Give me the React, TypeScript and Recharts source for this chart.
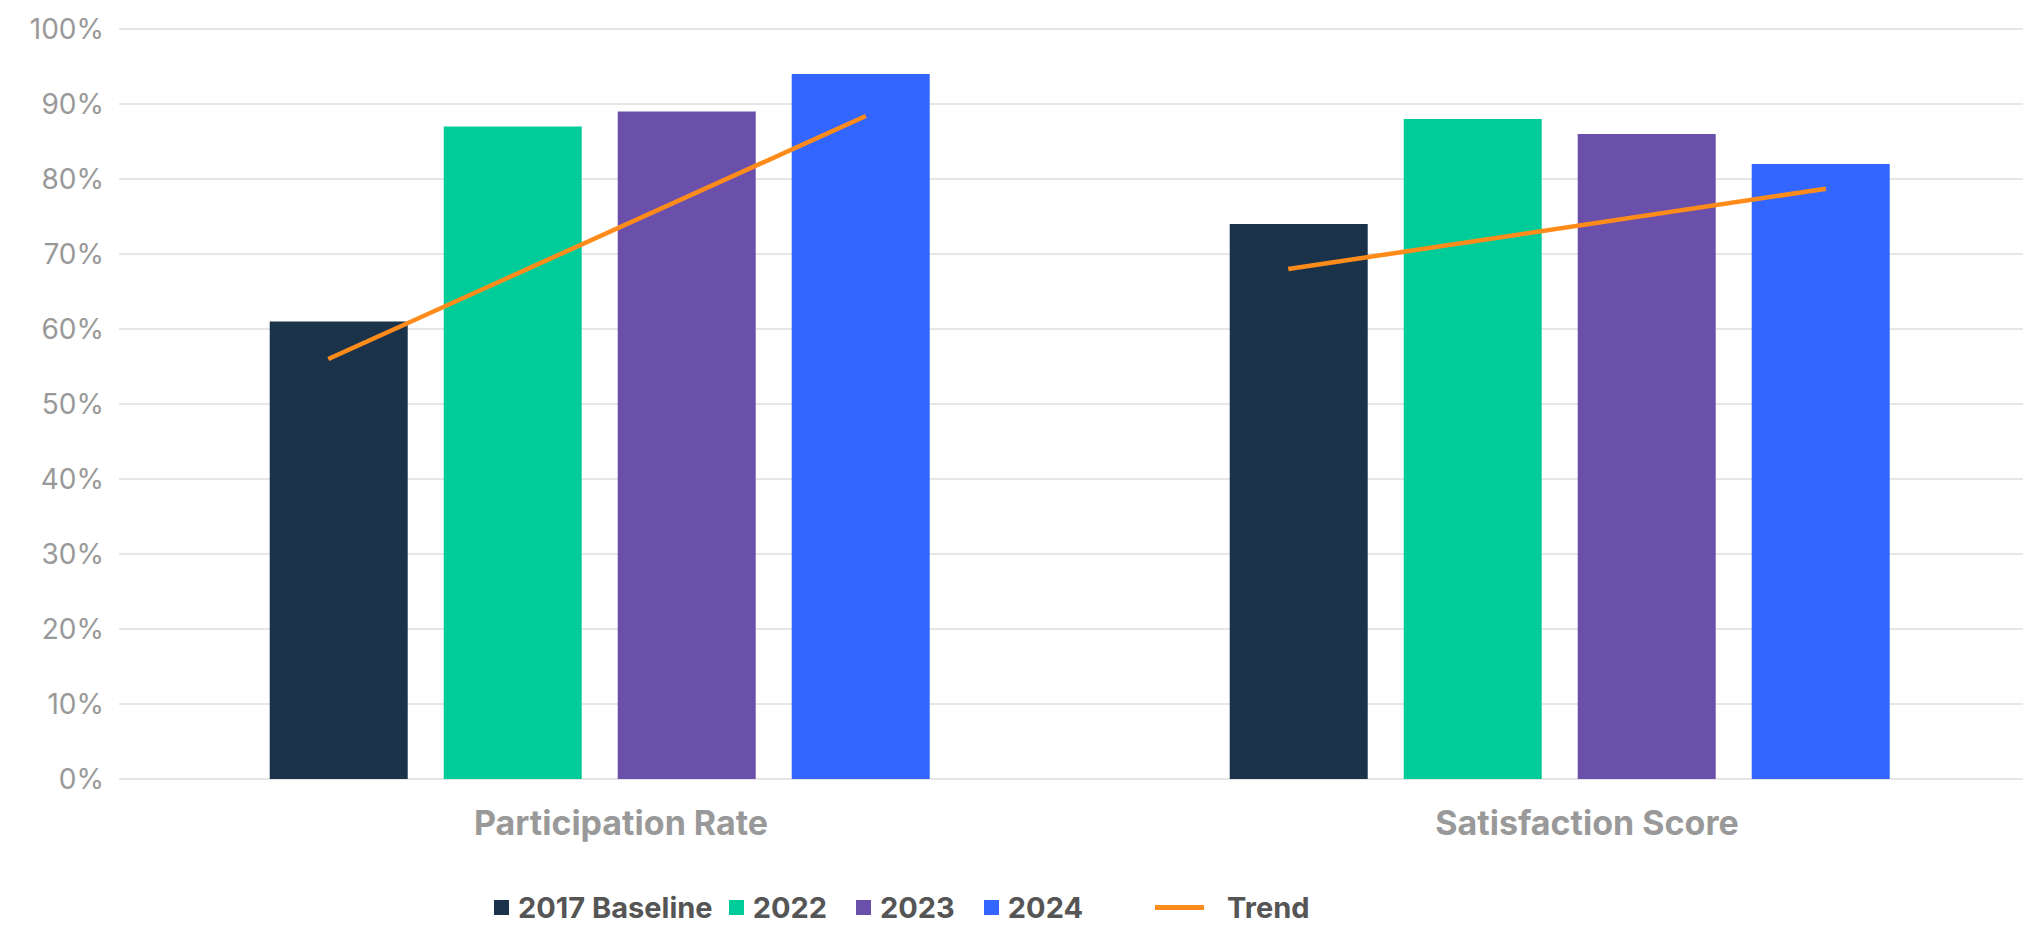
import React from "react";
import {
  ComposedChart,
  Bar,
  Line,
  XAxis,
  YAxis,
  CartesianGrid,
  Legend,
} from "recharts";

const categories = ["Participation Rate", "Satisfaction Score"];
const baseline2017 = [61, 74];
const values2022 = [87, 88];
const values2023 = [89, 86];
const values2024 = [94, 82];
const trendStart = [56, 68];
const trendEnd = [88.4, 78.7];
const yTicks = [0, 10, 20, 30, 40, 50, 60, 70, 80, 90, 100];

const seriesNames = ["2017 Baseline", "2022", "2023", "2024"];
const seriesKeys = ["b2017", "y2022", "y2023", "y2024"];
const seriesColors = ["#1a334b", "#00cc99", "#6b50ab", "#3366ff"];
const trendColor = "#ff8c1a";

const data = categories.map((name, i) => ({
  name,
  b2017: baseline2017[i],
  y2022: values2022[i],
  y2023: values2023[i],
  y2024: values2024[i],
}));

// trend endpoints sit at fractional positions inside each category band
const trendFrom = 0.218;
const trendTo = 0.778;
const trendData: { pos: number; v: number | null }[] = [];
categories.forEach((_, i) => {
  if (i > 0) trendData.push({ pos: i, v: null });
  trendData.push({ pos: i + trendFrom, v: trendStart[i] });
  trendData.push({ pos: i + trendTo, v: trendEnd[i] });
});

const FONT = "Inter, 'Noto Sans', sans-serif";

const XTick = (props: any) => {
  const { x, y, payload, index } = props;
  return (
    <text
      x={x + (index === 0 ? 22 : 28)}
      y={y + 43}
      textAnchor="middle"
      dominantBaseline="central"
      fontFamily={FONT}
      fontWeight={700}
      fontSize={34}
      fill="#999999"
    >
      {payload.value}
    </text>
  );
};

const LegendContent = () => (
  <div
    style={{
      display: "flex",
      alignItems: "center",
      height: 79,
      boxSizing: "border-box",
      paddingTop: 37,
      paddingLeft: 494,
      fontFamily: FONT,
      fontWeight: 700,
      fontSize: 29,
      color: "#555555",
    }}
  >
    {seriesNames.map((n, i) => (
      <div
        key={n}
        style={{ display: "flex", alignItems: "center", marginLeft: i === 0 ? 0 : i === 1 ? 16 : 29 }}
      >
        <div style={{ width: 15, height: 15, background: seriesColors[i], marginRight: 9 }} />
        <span>{n}</span>
      </div>
    ))}
    <div style={{ display: "flex", alignItems: "center", marginLeft: 72 }}>
      <div style={{ width: 49, height: 5, background: trendColor, marginRight: 23 }} />
      <span>Trend</span>
    </div>
  </div>
);

export default function App() {
  return (
    <div style={{ width: 2023, height: 928, overflow: "hidden", position: "relative", background: "#fff" }}>
      <style>{"body{margin:0}"}</style>
      <ComposedChart
        width={2039}
        height={928}
        data={data}
        margin={{ top: 29, right: 0, left: 0, bottom: 0 }}
        barCategoryGap="15.7%"
        barGap={36}
      >
        <CartesianGrid vertical={false} stroke="#e6e6e6" strokeWidth={2} />
        <XAxis
          dataKey="name"
          axisLine={false}
          tickLine={false}
          tickSize={0}
          tickMargin={0}
          height={70}
          tick={<XTick />}
          interval={0}
        />
        <XAxis
          xAxisId="trend"
          type="number"
          dataKey="pos"
          domain={[0, 2]}
          allowDataOverflow
          hide
        />
        <YAxis
          width={119}
          domain={[0, 100]}
          ticks={yTicks}
          interval={0}
          axisLine={false}
          tickLine={false}
          tickSize={0}
          tickMargin={15}
          tickFormatter={(v: number) => `${v}%`}
          tick={{ fill: "#999999", fontSize: 28, fontFamily: FONT }}
        />
        {seriesKeys.map((k, i) => (
          <Bar key={k} dataKey={k} name={seriesNames[i]} fill={seriesColors[i]} isAnimationActive={false} />
        ))}
        <Line
          xAxisId="trend"
          data={trendData}
          dataKey="v"
          name="Trend"
          stroke={trendColor}
          strokeWidth={4.5}
          dot={false}
          activeDot={false}
          connectNulls={false}
          isAnimationActive={false}
        />
        <Legend
          verticalAlign="bottom"
          height={79}
          content={<LegendContent />}
          wrapperStyle={{ left: 0, bottom: 0, width: 2039 }}
        />
      </ComposedChart>
    </div>
  );
}
